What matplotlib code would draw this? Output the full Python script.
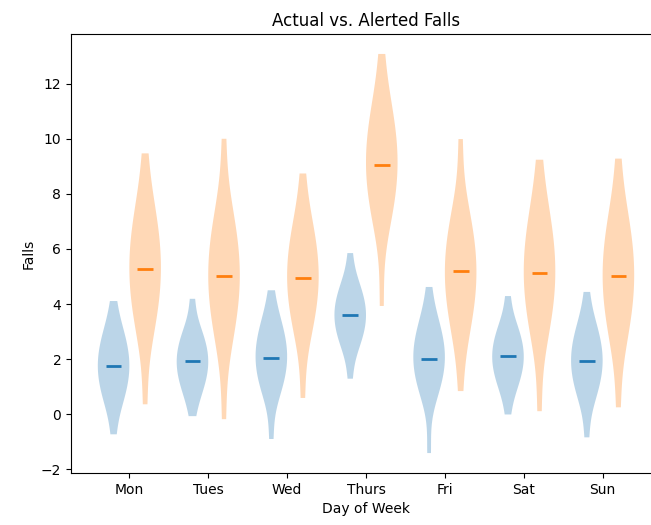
import matplotlib
matplotlib.use("Agg")
import matplotlib.pyplot as plt
import numpy as np

days = ["Mon", "Tues", "Wed", "Thurs", "Fri", "Sat", "Sun"]

# actual falls per day (sample values)
actual_mon = [-0.73, 0.36, 0.56, 0.76, 1.06, 1.31, 1.51, 1.68, 1.84, 2.01, 2.21, 2.46, 2.76, 2.96, 3.16, 4.11]
actual_tue = [-0.07, 0.72, 0.89, 1.06, 1.31, 1.53, 1.70, 1.84, 1.98, 2.12, 2.29, 2.51, 2.76, 2.93, 3.10, 4.19]
actual_wed = [-0.90, 0.69, 0.89, 1.09, 1.39, 1.64, 1.84, 2.01, 2.17, 2.34, 2.54, 2.79, 3.09, 3.29, 3.49, 4.50]
actual_thu = [1.29, 2.41, 2.58, 2.75, 3.00, 3.22, 3.39, 3.53, 3.67, 3.81, 3.98, 4.20, 4.45, 4.62, 4.79, 5.85]
actual_fri = [-1.41, 0.67, 0.87, 1.07, 1.37, 1.62, 1.82, 1.99, 2.15, 2.32, 2.52, 2.77, 3.07, 3.27, 3.47, 4.62]
actual_sat = [-0.01, 0.90, 1.07, 1.24, 1.50, 1.71, 1.88, 2.02, 2.16, 2.30, 2.47, 2.69, 2.94, 3.11, 3.28, 4.29]
actual_sun = [-0.84, 0.55, 0.75, 0.95, 1.25, 1.50, 1.70, 1.87, 2.03, 2.20, 2.40, 2.65, 2.95, 3.15, 3.35, 4.44]

# alerted falls per day (sample values)
alerted_mon = [0.36, 2.93, 3.27, 3.61, 4.12, 4.55, 4.89, 5.17, 5.45, 5.74, 6.08, 6.50, 7.01, 7.35, 7.69, 9.47]
alerted_tue = [-0.18, 2.66, 3.00, 3.34, 3.85, 4.28, 4.62, 4.90, 5.18, 5.47, 5.81, 6.23, 6.74, 7.08, 7.42, 10.00]
alerted_wed = [0.59, 2.90, 3.20, 3.50, 3.95, 4.33, 4.63, 4.88, 5.12, 5.38, 5.68, 6.05, 6.50, 6.80, 7.10, 8.74]
alerted_thu = [3.93, 6.90, 7.22, 7.54, 8.02, 8.42, 8.74, 9.01, 9.27, 9.54, 9.86, 10.26, 10.74, 11.06, 11.38, 13.08]
alerted_fri = [0.84, 2.92, 3.24, 3.56, 4.04, 4.44, 4.76, 5.03, 5.29, 5.56, 5.88, 6.28, 6.76, 7.08, 7.40, 9.99]
alerted_sat = [0.11, 2.79, 3.13, 3.47, 3.98, 4.41, 4.75, 5.03, 5.31, 5.60, 5.94, 6.36, 6.87, 7.21, 7.55, 9.24]
alerted_sun = [0.25, 2.66, 3.00, 3.34, 3.85, 4.28, 4.62, 4.90, 5.18, 5.47, 5.81, 6.23, 6.74, 7.08, 7.42, 9.28]

actual = [actual_mon, actual_tue, actual_wed, actual_thu, actual_fri, actual_sat, actual_sun]
alerted = [alerted_mon, alerted_tue, alerted_wed, alerted_thu, alerted_fri, alerted_sat, alerted_sun]

pos = np.arange(1, len(days) + 1)

fig = plt.figure(figsize=(6.51, 5.25), dpi=100)
ax = fig.add_axes([71 / 651, 52 / 525, 590 / 651, 439 / 525])

v1 = ax.violinplot(actual, positions=pos - 0.2, widths=0.4, showmeans=True, showextrema=False)
v2 = ax.violinplot(alerted, positions=pos + 0.2, widths=0.4, showmeans=True, showextrema=False)
v1["cmeans"].set_linewidth(2)
v2["cmeans"].set_linewidth(2)

ax.set_xticks(pos)
ax.set_xticklabels(days)
ax.set_title("Actual vs. Alerted Falls")
ax.set_xlabel("Day of Week")
ax.set_ylabel("Falls")

fig.savefig("out.png", dpi=100)
